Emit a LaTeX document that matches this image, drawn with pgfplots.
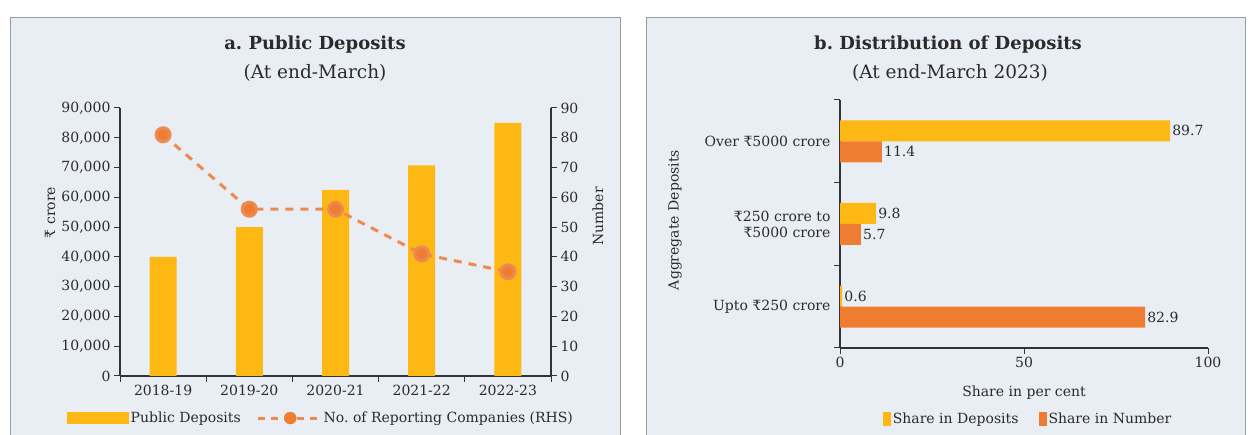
\documentclass[border=0pt]{standalone}
\usepackage{fontspec}
\setmainfont{DejaVu Serif}
\usepackage{pgfplots}
\pgfplotsset{compat=1.18}
\definecolor{bgc}{HTML}{E9EDF4}
\definecolor{bord}{HTML}{9A9A9A}
\definecolor{ybarc}{HTML}{FDB813}
\definecolor{obarc}{HTML}{EE7D31}
\definecolor{linc}{HTML}{EE8A50}
\definecolor{txt}{HTML}{2B2B2B}
\frenchspacing
\begin{document}
\begin{tikzpicture}
\path[use as bounding box] (0pt,0pt) rectangle (1248pt,435pt);
\fill[white] (0pt,0pt) rectangle (1248pt,435pt);
\filldraw[fill=bgc, draw=bord, line width=0.8pt] (10pt,-2pt) rectangle (620pt,418pt);
\filldraw[fill=bgc, draw=bord, line width=0.8pt] (646pt,-2pt) rectangle (1245pt,418pt);
\node[font=\fontsize{18}{21}\selectfont\bfseries, text=txt] at (315pt,390pt) {a. Public Deposits};
\node[font=\fontsize{18.5}{21}\selectfont, text=txt] at (315pt,362pt) {(At end-March)};
\node[font=\fontsize{18}{21}\selectfont\bfseries, text=txt] at (948pt,390pt) {b. Distribution of Deposits};
\node[font=\fontsize{18.5}{21}\selectfont, text=txt] at (950pt,362pt) {(At end-March 2023)};

\pgfplotsset{
  common/.style={
    scale only axis,
    anchor=south west,
    tick align=outside,
    major tick length=6pt,
    axis line style={line width=1.1pt, black!80},
    tick style={line width=1pt, black!80},
    tick label style={font=\fontsize{14}{16}\selectfont, text=txt},
    label style={font=\fontsize{14}{16}\selectfont, text=txt},
    /pgf/number format/assume math mode=true,
  }
}

% Panel a, bars
\begin{axis}[common,
  at={(120pt,59pt)}, width=431pt, height=268pt,
  xmin=-0.5, xmax=4.5, ymin=0, ymax=90000,
  axis x line*=bottom, axis y line*=left,
  xtick={-0.5,0.5,1.5,2.5,3.5,4.5},
  x tick label as interval,
  xticklabels={2018-19,2019-20,2020-21,2021-22,2022-23},
  ytick={0,10000,...,90000},
  scaled y ticks=false,
  yticklabel style={/pgf/number format/1000 sep={,}},
  ylabel={₹ crore},
  ylabel style={at={(axis description cs:-0.162,0.61)}, anchor=center, rotate=0},
  legend style={at={(axis description cs:0.466,-0.157)}, anchor=center, draw=none, fill=none,
    font=\fontsize{14}{16}\selectfont, text=txt,
    /tikz/every even column/.append style={column sep=14pt}},
  legend columns=2,
]
\addplot[ybar, bar width=27pt, fill=ybarc, draw=none,
  legend image code/.code={\fill[ybarc] (0pt,-6pt) rectangle (62pt,6pt);}]
  coordinates {(0,40000) (1,50000) (2,62500) (3,70700) (4,85000)};
\addlegendentry{Public Deposits}
\addlegendimage{legend image code/.code={
  \draw[linc, line width=3pt, dash pattern=on 7pt off 6pt] (0pt,0pt) -- (62pt,0pt);
  \fill[obarc] (32pt,0pt) circle (6pt);}}
\addlegendentry{No. of Reporting Companies (RHS)}
\end{axis}

% Panel a, line (RHS)
\begin{axis}[common,
  at={(120pt,59pt)}, width=431pt, height=268pt,
  xmin=-0.5, xmax=4.5, ymin=0, ymax=90,
  axis x line=none, axis y line*=right,
  ytick={0,10,...,90},
  ylabel={Number},
  ylabel style={at={(axis description cs:1.109,0.595)}, anchor=center, rotate=0},
]
\addplot[linc, line width=3pt, dash pattern=on 8pt off 7pt, mark=*, mark size=7pt,
  mark options={solid, fill=obarc, draw=none}]
  coordinates {(0,81) (1,56) (2,56) (3,41) (4,35)};
\end{axis}

% Panel b
\begin{axis}[common,
  at={(840pt,87pt)}, width=368pt, height=248pt,
  xmin=0, xmax=100, ymin=-0.5, ymax=2.5,
  axis x line*=bottom, axis y line*=left,
  xtick={0,50,100},
  ytick={-0.5,0.5,1.5,2.5},
  y tick label as interval,
  yticklabels={Upto ₹250 crore,{₹250 crore to\\₹5000 crore},Over ₹5000 crore},
  yticklabel style={align=right},
  xlabel={Share in per cent},
  xlabel style={at={(axis description cs:0.5,-0.181)}, anchor=center},
  ylabel={Aggregate Deposits},
  ylabel style={at={(axis description cs:-0.448,0.516)}, anchor=center, rotate=0},
  point meta=x,
  nodes near coords,
  nodes near coords style={/pgf/number format/fixed, /pgf/number format/fixed zerofill, /pgf/number format/precision=1},
  every node near coord/.append style={font=\fontsize{14}{16}\selectfont, text=txt, anchor=west, inner sep=2pt},
  legend style={at={(axis description cs:0.511,-0.286)}, anchor=center, draw=none, fill=none,
    font=\fontsize{14}{16}\selectfont, text=txt,
    /tikz/every even column/.append style={column sep=18pt}},
  legend columns=2,
]
\addplot[xbar, bar width=21pt, bar shift=10.5pt, fill=ybarc, draw=none,
  every node near coord/.append style={yshift=10.5pt},
  legend image code/.code={\fill[ybarc] (0pt,-7pt) rectangle (8pt,7pt);}]
  coordinates {(89.7,2) (9.8,1) (0.6,0)};
\addlegendentry{Share in Deposits}
\addplot[xbar, bar width=21pt, bar shift=-10.5pt, fill=obarc, draw=none,
  every node near coord/.append style={yshift=-10.5pt},
  legend image code/.code={\fill[obarc] (0pt,-7pt) rectangle (8pt,7pt);}]
  coordinates {(11.4,2) (5.7,1) (82.9,0)};
\addlegendentry{Share in Number}
\end{axis}
\end{tikzpicture}
\end{document}
